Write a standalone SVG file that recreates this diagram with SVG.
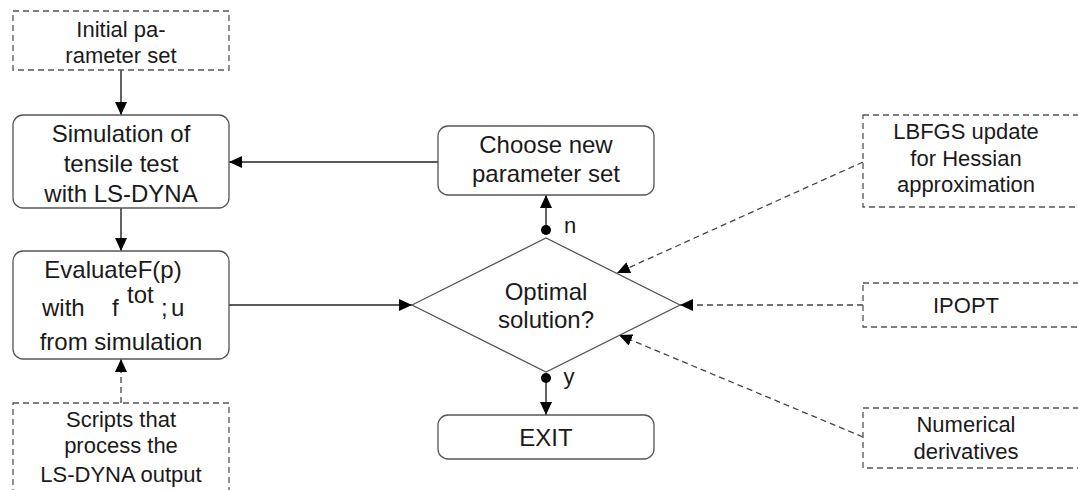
<svg xmlns="http://www.w3.org/2000/svg" width="1078" height="490" viewBox="0 0 1078 490">
<style>
  .box{fill:#fff;stroke:#555;stroke-width:1.3}
  .dbox{fill:#fff;stroke:#555;stroke-width:1.3;stroke-dasharray:6,4}
  .t{font-family:"Liberation Sans",Arial,sans-serif;font-size:24px;fill:#1a1a1a;text-anchor:middle}
  .s{font-family:"Liberation Sans",Arial,sans-serif;font-size:22px;fill:#1a1a1a;text-anchor:middle}
  .ln{fill:none;stroke:#222;stroke-width:1.4}
  .dl{fill:none;stroke:#444;stroke-width:1.3;stroke-dasharray:6,4}
</style>
<defs>
  <marker id="ah" markerUnits="userSpaceOnUse" markerWidth="14" markerHeight="12" refX="13" refY="6" orient="auto">
    <path d="M0,0 L13,6 L0,12 Z" fill="#000"/>
  </marker>
</defs>
<rect width="1078" height="490" fill="#fff"/>
<g id="connectors">
  <line class="ln" x1="121" y1="70" x2="121" y2="115" marker-end="url(#ah)"/>
  <line class="ln" x1="121" y1="208" x2="121" y2="251" marker-end="url(#ah)"/>
  <line class="dl" x1="121" y1="403" x2="121" y2="359" marker-end="url(#ah)"/>
  <line class="ln" x1="229" y1="305" x2="412" y2="305" marker-end="url(#ah)"/>
  <line class="ln" x1="438" y1="162" x2="229" y2="162" marker-end="url(#ah)"/>
  <line class="ln" x1="546" y1="230" x2="546" y2="195" marker-end="url(#ah)"/>
  <circle cx="546" cy="230" r="5" fill="#000"/>
  <line class="ln" x1="546" y1="378" x2="546" y2="415" marker-end="url(#ah)"/>
  <circle cx="546" cy="378" r="5" fill="#000"/>
  <text class="s" x="570" y="233">n</text>
  <text class="s" x="569" y="384">y</text>
  <line class="dl" x1="863" y1="162" x2="617" y2="273" marker-end="url(#ah)"/>
  <line class="dl" x1="863" y1="305" x2="680" y2="305" marker-end="url(#ah)"/>
  <line class="dl" x1="863" y1="437" x2="619" y2="335" marker-end="url(#ah)"/>
</g>
<g id="initial">
  <rect class="dbox" x="13" y="11" width="216" height="59"/>
  <text class="s" x="121" y="37">Initial pa-</text>
  <text class="s" x="121" y="63">rameter set</text>
</g>
<g id="simulation">
  <rect class="box" x="13" y="115" width="216" height="93" rx="10"/>
  <text class="t" x="121" y="142">Simulation of</text>
  <text class="t" x="121" y="172">tensile test</text>
  <text class="t" x="121" y="202">with LS-DYNA</text>
</g>
<g id="evaluate">
  <rect class="box" x="13" y="251" width="216" height="108" rx="10"/>
  <text class="t" x="113" y="278">EvaluateF(p)</text>
  <text class="t" x="42" y="316" style="text-anchor:start">with</text>
  <text class="t" x="112" y="316" style="text-anchor:start">f</text>
  <text class="t" x="127" y="303" style="text-anchor:start">tot</text>
  <text class="t" x="161" y="316" style="text-anchor:start">;</text>
  <text class="t" x="171" y="316" style="text-anchor:start">u</text>
  <text class="t" x="121" y="350">from simulation</text>
</g>
<g id="scripts">
  <rect class="dbox" x="13" y="403" width="216" height="100"/>
  <text class="s" x="121" y="427">Scripts that</text>
  <text class="s" x="121" y="453">process the</text>
  <text class="s" x="121" y="482">LS-DYNA output</text>
</g>
<g id="choose">
  <rect class="box" x="438" y="126" width="216" height="69" rx="10"/>
  <text class="t" x="546" y="153">Choose new</text>
  <text class="t" x="546" y="182">parameter set</text>
</g>
<g id="decision">
  <polygon points="412,305 546,238 680,305 546,372" fill="#fff" stroke="#555" stroke-width="1.3"/>
  <text class="t" x="546" y="300">Optimal</text>
  <text class="t" x="546" y="328">solution?</text>
</g>
<g id="exit">
  <rect class="box" x="438" y="415" width="216" height="44" rx="10"/>
  <text class="t" x="546" y="446">EXIT</text>
</g>
<g id="lbfgs">
  <rect class="dbox" x="863" y="115" width="230" height="92"/>
  <text class="s" x="966" y="139">LBFGS update</text>
  <text class="s" x="966" y="166">for Hessian</text>
  <text class="s" x="966" y="192">approximation</text>
</g>
<g id="ipopt">
  <rect class="dbox" x="863" y="283" width="230" height="44"/>
  <text class="s" x="966" y="313">IPOPT</text>
</g>
<g id="numerical">
  <rect class="dbox" x="863" y="408" width="230" height="60"/>
  <text class="s" x="966" y="432">Numerical</text>
  <text class="s" x="966" y="459">derivatives</text>
</g>
</svg>
